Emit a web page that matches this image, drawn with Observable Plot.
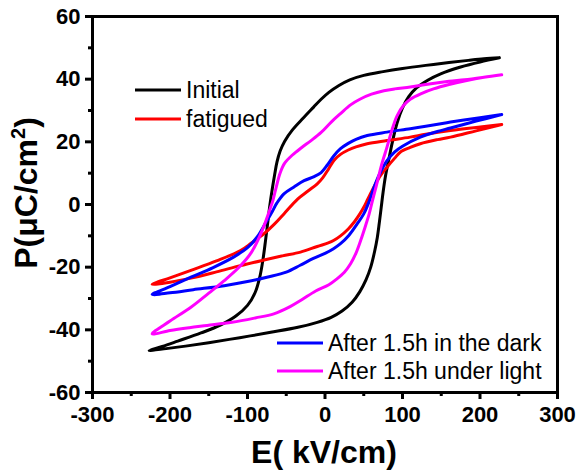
<!DOCTYPE html>
<html>
<head>
<meta charset="utf-8">
<script src="https://cdn.jsdelivr.net/npm/d3@7"></script>
<script src="https://cdn.jsdelivr.net/npm/@observablehq/plot@0.6"></script>
<style>
  html, body { margin: 0; padding: 0; background: #fff; }
  #chart { width: 577px; height: 472px; }
  #chart svg { font-family: "Liberation Sans", Arial, sans-serif; }
</style>
</head>
<body>
<div id="chart"></div>
<script>
// P–E hysteresis loops. Each loop runs from +Emax down the upper branch
// to -Emax, then back up the lower branch to +Emax.  [E (kV/cm), P (µC/cm²)]
const seriesNames = ["Initial", "fatigued", "After 1.5h in the dark", "After 1.5h under light"];
const seriesColors = ["#000000", "#ff0000", "#0000ff", "#ff00ff"];

const initialLoop = [
  [225, 46.8], [205, 46.5], [185, 46.0], [160, 45.3], [130, 44.4], [100, 43.4], [75, 42.4],
  [50, 41.2], [32, 39.8], [18, 38.0], [5, 35.8], [-5, 33.6], [-15, 31.0], [-28, 27.6],
  [-42, 23.8], [-52, 20.2], [-58, 17.0], [-62, 13.5], [-65, 9.5], [-68, 5.0], [-71, 0],
  [-74, -6], [-77, -12], [-80, -17.5], [-84, -23], [-90, -28], [-100, -32.2], [-115, -35.6],
  [-135, -38.5], [-160, -41], [-190, -43.6], [-210, -45.3], [-227, -46.6],
  [-205, -46.0], [-180, -45.2], [-150, -44.1], [-110, -42.5], [-70, -40.8], [-35, -39.2],
  [-10, -37.6], [8, -36], [22, -34], [35, -31.2], [45, -27.8], [53, -24], [59, -20],
  [64, -15], [67.5, -10.5], [70, -6], [72.5, -1], [75, 4], [78, 9], [82, 14], [87, 20],
  [93, 26], [100, 30.8], [108, 34.4], [118, 37.2], [132, 39.6], [150, 41.8], [175, 43.9],
  [200, 45.5], [225, 46.8]
];

const fatiguedLoop = [
  [228, 25.5], [195, 24.6], [162, 23.6], [130, 22.4], [110, 21.5], [80, 20.4], [54.5, 19.4],
  [40, 18.4], [30, 17.4], [20, 16], [12, 14.2], [5, 11.5], [-3, 8.5], [-10, 6.6], [-22, 4.3],
  [-35, 1.8], [-53, -3], [-65, -6.2], [-79, -9.4], [-95, -12.3], [-109, -14.7], [-140, -18],
  [-173, -21], [-200, -23.4], [-223, -25.5],
  [-200, -24.8], [-173, -23.5], [-140, -21.5], [-109, -19.5], [-80, -17.8], [-55, -16.4],
  [-31.6, -15.2], [-10, -13.4], [5, -12.2], [11, -11.5], [20, -10], [30, -7.8], [38, -5.5],
  [45, -3], [50, -0.9], [55, 1.6], [59, 3.6], [65, 6.5], [72, 9.4], [80, 11.9], [90, 14.8],
  [97, 16.7], [110, 18.2], [123, 19.4], [145, 20.7], [162, 21.5], [195, 23.5], [228, 25.5]
];

const darkLoop = [
  [228, 28.7], [200, 27.7], [162, 26.3], [130, 25.0], [110, 24.2], [80, 23.1], [54.5, 22],
  [40, 20.8], [30, 19.5], [20, 17.8], [11, 15.4], [3, 12.6], [-5, 10.2], [-14, 8.9],
  [-27, 7.6], [-40, 5.6], [-53, 3.4], [-62, 0.5], [-68, -2.2], [-76, -5.6], [-87, -10.2],
  [-100, -13.8], [-118, -16.8], [-145, -20.2], [-173, -23.2], [-200, -26.2], [-223, -28.7],
  [-200, -28.2], [-170, -27.2], [-130, -25.9], [-100, -24.6], [-75, -23.2], [-50, -21.6],
  [-32, -19.4], [-15, -17.2], [0, -15.6], [11, -14.1], [20, -12.5], [31, -9.8], [41.5, -6.2],
  [50, -3], [57, 1], [63, 5.3], [70, 9.5], [80, 14], [90, 16.8], [100, 18.6], [123, 21.5],
  [145, 23.3], [162, 24.4], [195, 26.6], [228, 28.7]
];

const lightLoop = [
  [228, 41.4], [205, 40.6], [180, 39.8], [160, 39.3], [130, 38.3], [110, 37.5], [90, 36.9],
  [76, 36.3], [60, 35.2], [45, 33.6], [33, 31.8], [20, 29], [8, 26.3], [-5, 23.0],
  [-18, 20.4], [-30, 18.2], [-42, 15.8], [-52, 13.2], [-58, 10], [-63, 5.5], [-67, 1.5],
  [-71, -1.5], [-76, -5], [-83, -9.4], [-95, -15.3], [-110, -19.8], [-130, -24.3],
  [-150, -28.3], [-173, -32.8], [-200, -37.2], [-223, -41.3],
  [-200, -40.2], [-175, -39.3], [-152, -38.6], [-120, -37.6], [-90, -36.2], [-66, -34.9],
  [-45, -32.6], [-30, -30.4], [-12, -27.6], [5, -25.6], [15, -23.8], [25, -21.6], [33, -18.9],
  [40, -15.5], [46, -11.5], [52, -7], [57, -3], [61, 1], [65, 4.8], [69, 8.8], [74, 13.5],
  [80, 18.3], [86, 23.5], [93, 28.3], [101, 31.5], [110, 33.6], [125, 35.5], [140, 36.9],
  [160, 38.3], [183, 39.6], [205, 40.6], [228, 41.4]
];

const xTicks = [-300, -200, -100, 0, 100, 200, 300];
const xMinorTicks = [-250, -150, -50, 50, 150, 250];
const yTicks = [-60, -40, -20, 0, 20, 40, 60];
const yMinorTicks = [-50, -30, -10, 10, 30, 50];

const xTitle = "E( kV/cm)";
const yTitle = ["P(\u03BCC/cm", "2", ")"];

// Long-format rows for Plot
const loops = [initialLoop, fatiguedLoop, darkLoop, lightLoop];
const rows = [];
loops.forEach((loop, i) => {
  loop.forEach(([E, P]) => rows.push({series: seriesNames[i], E, P}));
});

const font = "'Liberation Sans', Arial, sans-serif";

const chart = Plot.plot({
  width: 577,
  height: 472,
  marginLeft: 92,
  marginRight: 20,
  marginTop: 16,
  marginBottom: 80,
  style: {fontFamily: font, background: "#fff", color: "#000", overflow: "visible"},
  x: {domain: [-300, 300]},
  y: {domain: [-60, 60]},
  color: {domain: seriesNames, range: seriesColors},
  marks: [
    Plot.line(rows, {
      x: "E", y: "P", z: "series", stroke: "series",
      strokeWidth: 3, curve: "catmull-rom", strokeLinejoin: "round", strokeLinecap: "round"
    }),
    Plot.frame({stroke: "#000", strokeWidth: 3}),
    Plot.axisX(xTicks, {
      tickSize: 7, tickPadding: 7, strokeWidth: 3, label: null,
      tickFormat: d => String(d), fontSize: 22, fontWeight: "bold"
    }),
    Plot.axisX(xMinorTicks, {tickSize: 4, strokeWidth: 3, label: null, tickFormat: () => ""}),
    Plot.axisY(yTicks, {
      tickSize: 7, tickPadding: 5, strokeWidth: 3, label: null,
      tickFormat: d => String(d), fontSize: 22, fontWeight: "bold"
    }),
    Plot.axisY(yMinorTicks, {tickSize: 4, strokeWidth: 3, label: null, tickFormat: () => ""})
  ]
});

document.getElementById("chart").appendChild(chart);

const svg = d3.select(chart);

// Axis titles
svg.append("text")
  .attr("x", 324).attr("y", 463)
  .attr("text-anchor", "middle")
  .style("font-family", font).style("font-size", "32px").style("font-weight", "bold")
  .text(xTitle);

const yt = svg.append("text")
  .attr("transform", "translate(37,193) rotate(-90)")
  .attr("text-anchor", "middle")
  .style("font-family", font).style("font-size", "32px").style("font-weight", "bold");
yt.append("tspan").text(yTitle[0]);
yt.append("tspan").attr("dy", -12).style("font-size", "20px").text(yTitle[1]);
yt.append("tspan").attr("dy", 12).text(yTitle[2]);

// Legend, two entries at upper left and two at lower right
const legendSlots = [
  {x: 135, y: 90}, {x: 135, y: 119},
  {x: 277, y: 343}, {x: 277, y: 371}
];
seriesNames.forEach((name, i) => {
  const s = legendSlots[i];
  svg.append("line")
    .attr("x1", s.x).attr("x2", s.x + 46)
    .attr("y1", s.y).attr("y2", s.y)
    .attr("stroke", seriesColors[i]).attr("stroke-width", 3);
  svg.append("text")
    .attr("x", s.x + 51).attr("y", s.y + 7.5)
    .attr("text-anchor", "start")
    .style("font-family", font).style("font-size", "23px")
    .attr("fill", "#000")
    .text(name);
});
</script>
</body>
</html>
